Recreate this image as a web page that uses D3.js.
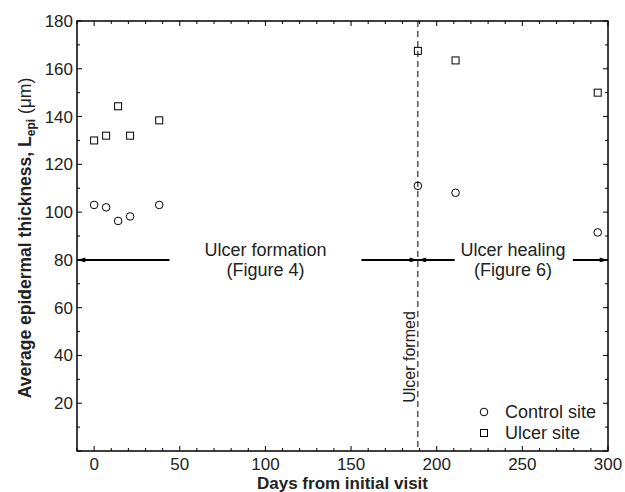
<!DOCTYPE html>
<html>
<head>
<meta charset="utf-8">
<script src="https://cdn.jsdelivr.net/npm/d3@7"></script>
<style>
  body { margin: 0; background: #fff; }
  svg { font-family: "Liberation Sans", Arial, sans-serif; }
</style>
</head>
<body>
<svg id="chart" width="625" height="492"></svg>
<script>
const controlDays = [0, 7, 14, 21, 38, 189, 211, 294];
const controlVals = [103, 102, 96.3, 98.2, 103, 111, 108.1, 91.5];
const ulcerDays = [0, 7, 14, 21, 38, 189, 211, 294];
const ulcerVals = [130, 132, 144.3, 132, 138.4, 167.5, 163.5, 150];
const xTicks = [0, 50, 100, 150, 200, 250, 300];
const yTicks = [20, 40, 60, 80, 100, 120, 140, 160, 180];
const ulcerFormedDay = 189;
// arrow segments at y = 80: [from, to] with head at "to"
const arrows = [[44, -10], [156, 189], [210.5, 189], [279.5, 300]];

const svg = d3.select("#chart");
const mLeft = 77, mRight = 608, mTop = 21, mBottom = 451;

const x = d3.scaleLinear().domain([-10, 300]).range([mLeft, mRight]);
const y = d3.scaleLinear().domain([0, 180]).range([mBottom, mTop]);

const minorX = d3.range(-10, 301, 10);
const minorY = d3.range(0, 181, 10);

// ticks on all four sides, pointing inwards
const tickG = svg.append("g").attr("stroke", "#000").attr("stroke-width", 1);
minorX.forEach(d => {
  const len = d % 50 === 0 ? 5 : 3;
  tickG.append("line").attr("x1", x(d)).attr("x2", x(d)).attr("y1", mBottom).attr("y2", mBottom - len);
  tickG.append("line").attr("x1", x(d)).attr("x2", x(d)).attr("y1", mTop).attr("y2", mTop + len);
});
minorY.forEach(d => {
  const len = d % 20 === 0 ? 5 : 3;
  tickG.append("line").attr("y1", y(d)).attr("y2", y(d)).attr("x1", mLeft).attr("x2", mLeft + len);
  tickG.append("line").attr("y1", y(d)).attr("y2", y(d)).attr("x1", mRight).attr("x2", mRight - len);
});

svg.append("rect")
  .attr("x", mLeft).attr("y", mTop)
  .attr("width", mRight - mLeft).attr("height", mBottom - mTop)
  .attr("fill", "none").attr("stroke", "#000").attr("stroke-width", 1.5);

svg.append("g").selectAll("text").data(xTicks).enter().append("text")
  .attr("x", d => x(d)).attr("y", 470)
  .attr("text-anchor", "middle").attr("font-size", 17).attr("fill", "#222")
  .text(d => d);

svg.append("g").selectAll("text").data(yTicks).enter().append("text")
  .attr("x", mLeft - 4).attr("y", d => y(d) + 6)
  .attr("text-anchor", "end").attr("font-size", 17).attr("fill", "#222")
  .text(d => d);

svg.append("text")
  .attr("x", (mLeft + mRight) / 2).attr("y", 489)
  .attr("text-anchor", "middle").attr("font-size", 17).attr("font-weight", "bold").attr("fill", "#222")
  .text("Days from initial visit");

const yl = svg.append("text")
  .attr("transform", "translate(31,238) rotate(-90)")
  .attr("text-anchor", "middle").attr("font-size", 17.5).attr("font-weight", "bold").attr("fill", "#222");
yl.append("tspan").text("Average epidermal thickness, L");
yl.append("tspan").attr("font-size", 12).attr("dy", 4).text("epi");
yl.append("tspan").attr("dy", -4).attr("font-weight", "normal").text(" (\u03bcm)");

// ulcer formed line
svg.append("line")
  .attr("x1", x(ulcerFormedDay)).attr("x2", x(ulcerFormedDay))
  .attr("y1", mTop).attr("y2", mBottom)
  .attr("stroke", "#000").attr("stroke-width", 1).attr("stroke-dasharray", "6,4");

svg.append("text")
  .attr("transform", `translate(${x(ulcerFormedDay) - 3},357) rotate(-90)`)
  .attr("text-anchor", "middle").attr("font-size", 16).attr("fill", "#222")
  .text("Ulcer formed");

// arrows
svg.append("defs").append("marker")
  .attr("id", "head").attr("viewBox", "0 0 10 6")
  .attr("refX", 10).attr("refY", 3)
  .attr("markerWidth", 12).attr("markerHeight", 5)
  .attr("markerUnits", "userSpaceOnUse").attr("orient", "auto")
  .append("path").attr("d", "M0,0L10,3L0,6Z").attr("fill", "#000");

svg.append("g").selectAll("line").data(arrows).enter().append("line")
  .attr("x1", d => x(d[0])).attr("x2", d => x(d[1]))
  .attr("y1", y(80)).attr("y2", y(80))
  .attr("stroke", "#000").attr("stroke-width", 2)
  .attr("marker-end", "url(#head)");

const labels = [
  { x: 100, lines: ["Ulcer formation", "(Figure 4)"] },
  { x: 244.5, lines: ["Ulcer healing", "(Figure 6)"] }
];
labels.forEach(l => {
  l.lines.forEach((s, i) => {
    svg.append("text")
      .attr("x", x(l.x)).attr("y", 256 + i * 20)
      .attr("text-anchor", "middle").attr("font-size", 18).attr("fill", "#222")
      .text(s);
  });
});

// data markers
svg.append("g").selectAll("circle").data(controlDays).enter().append("circle")
  .attr("cx", d => x(d)).attr("cy", (d, i) => y(controlVals[i])).attr("r", 3.8)
  .attr("fill", "none").attr("stroke", "#000").attr("stroke-width", 1);

svg.append("g").selectAll("rect").data(ulcerDays).enter().append("rect")
  .attr("x", d => x(d) - 3.5).attr("y", (d, i) => y(ulcerVals[i]) - 3.5)
  .attr("width", 7).attr("height", 7)
  .attr("fill", "none").attr("stroke", "#000").attr("stroke-width", 1);

// legend
const lg = svg.append("g");
lg.append("circle").attr("cx", 484).attr("cy", 412).attr("r", 3.8)
  .attr("fill", "none").attr("stroke", "#000");
lg.append("rect").attr("x", 480.5).attr("y", 429.5).attr("width", 7).attr("height", 7)
  .attr("fill", "none").attr("stroke", "#000");
lg.append("text").attr("x", 505).attr("y", 418).attr("font-size", 18).attr("fill", "#222").text("Control site");
lg.append("text").attr("x", 505).attr("y", 439).attr("font-size", 18).attr("fill", "#222").text("Ulcer site");
</script>
</body>
</html>
